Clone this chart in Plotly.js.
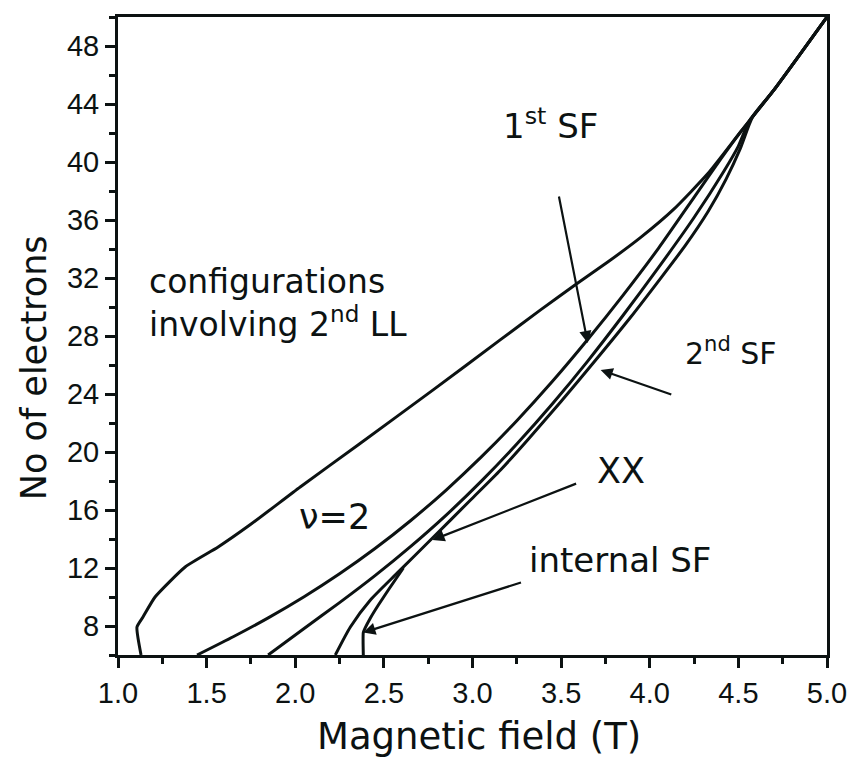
<!DOCTYPE html>
<html>
<head>
<meta charset="utf-8">
<script src="https://cdn.plot.ly/plotly-3.0.1.min.js"></script>
<style>html,body{margin:0;padding:0;background:#fff;}</style>
</head>
<body>
<div id="chart" style="width:855px;height:762px;"></div>
<script>
// Boundary "configurations involving 2nd LL" / nu=2
const outerB = [1.130, 1.107, 1.141, 1.209, 1.379, 1.565, 1.751, 2.028, 2.356, 2.780, 3.158, 3.384, 3.582, 3.763, 3.949, 4.136, 4.328, 4.514, 4.701, 5.0];
const outerN = [6.00, 7.93, 8.62, 10.0, 12.07, 13.45, 15.03, 17.59, 20.5, 24.3, 27.75, 29.8, 31.55, 33.1, 34.8, 36.75, 39.2, 42.1, 44.97, 50];
// 1st SF
const sf1B = [1.446, 1.65, 1.85, 2.05, 2.25, 2.45, 2.65, 2.85, 3.05, 3.25, 3.45, 3.65, 3.85, 4.05, 4.25, 4.40, 4.514, 4.701, 5.0];
const sf1N = [6.0, 7.26, 8.58, 10.02, 11.6, 13.34, 15.26, 17.36, 19.66, 22.16, 24.86, 27.76, 30.82, 34.06, 37.56, 40.2, 42.1, 44.97, 50];
// XX
const xxB = [1.847, 2.05, 2.25, 2.45, 2.65, 2.85, 3.05, 3.25, 3.45, 3.65, 3.85, 4.05, 4.25, 4.42, 4.50, 4.56, 4.701, 5.0];
const xxN = [6.0, 7.83, 9.61, 11.47, 13.47, 15.63, 17.99, 20.55, 23.31, 26.27, 29.43, 32.73, 36.17, 39.4, 41.1, 42.8, 44.97, 50];
// 2nd SF
const sf2B = [2.226, 2.311, 2.424, 2.576, 2.763, 2.989, 3.158, 3.311, 3.497, 3.695, 3.893, 4.045, 4.203, 4.33, 4.43, 4.51, 4.58, 4.701, 5.0];
const sf2N = [6.0, 7.93, 9.79, 11.66, 13.93, 16.69, 18.76, 20.83, 23.45, 26.34, 29.31, 31.72, 34.28, 36.6, 38.8, 40.9, 43.1, 44.97, 50];
// internal SF
const isfB = [2.384, 2.384, 2.424, 2.469, 2.525, 2.610];
const isfN = [6.0, 7.55, 8.55, 9.45, 10.48, 12.0];

const xTickVals = [1.0, 1.5, 2.0, 2.5, 3.0, 3.5, 4.0, 4.5, 5.0];
const yTickVals = [8, 12, 16, 20, 24, 28, 32, 36, 40, 44, 48];

const INK = '#0c1212';
const lineStyle = {color: INK, width: 3, shape: 'spline', smoothing: 0.6};
function tr(x, y, sm) {
  return {x: x, y: y, type: 'scatter', mode: 'lines', hoverinfo: 'skip',
          line: Object.assign({}, lineStyle, sm === undefined ? {} : {smoothing: sm})};
}
const data = [tr(outerB, outerN, 0.5), tr(sf1B, sf1N), tr(xxB, xxN), tr(sf2B, sf2N), tr(isfB, isfN, 0.3)];

const FAM = 'DejaVu Sans, Liberation Sans, Arial, sans-serif';
function font(size) { return {family: FAM, size: size, color: INK}; }
function label(x, y, text, size, extra) {
  return Object.assign({x: x, y: y, xref: 'x', yref: 'y', text: text, showarrow: false, font: font(size)}, extra || {});
}
function arrow(x0, y0, x1, y1) {
  return {x: x1, y: y1, ax: x0, ay: y0, xref: 'x', yref: 'y', axref: 'x', ayref: 'y',
          text: '', showarrow: true, arrowhead: 2, arrowsize: 1.1, arrowwidth: 2.2, arrowcolor: INK, standoff: 0, startstandoff: 0};
}

const annotations = [
  label(1.165, 30.3, 'configurations<br>involving 2<sup>nd</sup> LL', 33, {xanchor: 'left', align: 'left'}),
  label(2.22, 15.5, 'ν=2', 35),
  label(3.44, 42.6, '1<sup>st</sup> SF', 34),
  label(4.46, 26.9, '2<sup>nd</sup> SF', 30),
  label(3.84, 18.7, 'XX', 35),
  label(3.83, 12.55, 'internal SF', 34),
  arrow(3.486, 37.72, 3.650, 27.52),
  arrow(4.130, 23.93, 3.723, 25.66),
  arrow(3.593, 17.86, 2.774, 13.93),
  arrow(3.282, 11.03, 2.384, 7.55),
  {x: 0.509, y: -0.128, xref: 'paper', yref: 'paper', text: 'Magnetic field (T)', showarrow: false,
   font: font(37), xanchor: 'center', yanchor: 'middle'},
  {x: -0.118, y: 0.45, xref: 'paper', yref: 'paper', text: 'No of electrons', showarrow: false,
   font: font(35), textangle: -90, xanchor: 'center', yanchor: 'middle'}
];

const axisCommon = {
  showline: true, linewidth: 3, linecolor: INK, mirror: true,
  ticks: 'outside', ticklen: 10, tickwidth: 3, tickcolor: INK,
  showgrid: false, zeroline: false,
  tickfont: {family: 'Liberation Sans, Arial, sans-serif', size: 29, color: INK}
};

const layout = {
  width: 855, height: 762,
  margin: {l: 118, r: 28, t: 17, b: 107},
  paper_bgcolor: '#fff', plot_bgcolor: '#fff',
  showlegend: false,
  xaxis: Object.assign({}, axisCommon, {
    range: [1.0, 5.0], tickvals: xTickVals, tickformat: '.1f',
    minor: {dtick: 0.25, tick0: 1, ticks: 'outside', ticklen: 6, tickwidth: 3, tickcolor: INK}
  }),
  yaxis: Object.assign({}, axisCommon, {
    range: [6, 50], tickvals: yTickVals,
    minor: {dtick: 2, tick0: 0, ticks: 'outside', ticklen: 6, tickwidth: 3, tickcolor: INK}
  }),
  annotations: annotations
};

Plotly.newPlot('chart', data, layout, {displayModeBar: false, staticPlot: true});
</script>
</body>
</html>
